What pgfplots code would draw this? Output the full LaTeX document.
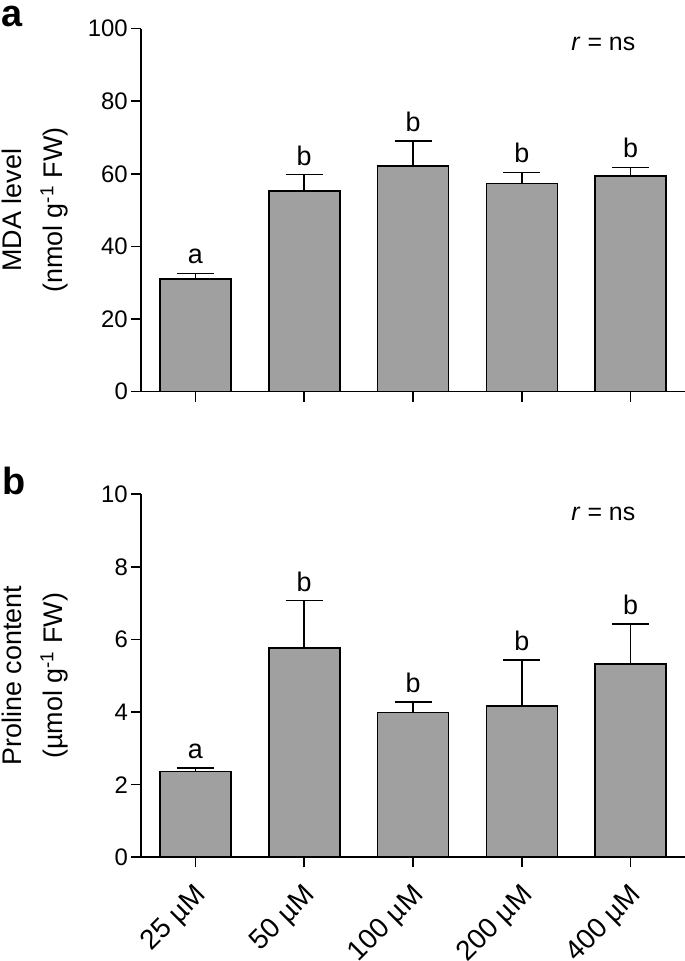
\documentclass[border=0pt]{standalone}
\usepackage{fontspec}
\setmainfont{Liberation Sans}
\usepackage{pgfplots}
\usepackage{pgfplotstable}
\pgfplotsset{compat=1.18}
\definecolor{bargray}{HTML}{A0A0A0}

\pgfplotstableread{
x y err lab
0 31.0 1.6 a
1 55.3 4.5 b
2 62.2 6.9 b
3 57.3 3.1 b
4 59.4 2.4 b
}\mda

\pgfplotstableread{
x y err lab
0 2.36 0.10 a
1 5.77 1.30 b
2 3.99 0.28 b
3 4.17 1.26 b
4 5.32 1.11 b
}\pro

\pgfplotsset{
  panel/.style={
    scale only axis,
    width=544bp, height=363bp,
    anchor=south west,
    axis lines=left,
    axis line style={-, line width=1.6bp, black},
    xmin=-0.5, xmax=4.5,
    ymin=0,
    xtick={0,1,2,3,4},
    tick align=outside,
    major tick length=10bp,
    tick style={line width=1.6bp, black},
    /pgf/number format/assume math mode=true,
    yticklabel style={font=\fontsize{24}{28}\selectfont, inner sep=3bp},
    ylabel style={align=center, font=\fontsize{27}{41}\selectfont,
      at={(rel axis cs:0,0.5)}, anchor=center, yshift=106bp},
    clip=false,
  },
  barstyle/.style={
    ybar, bar width=71bp, fill=bargray, draw=black, line width=1.6bp,
    error bars/.cd, y dir=plus, y explicit,
    error bar style={line width=1.6bp, black},
    error mark options={rotate=90, mark size=18.5bp, line width=1.6bp, black},
  },
  labstyle/.style={
    draw=none, mark=none, only marks,
    nodes near coords, point meta=explicit symbolic,
    every node near coord/.append style={font=\fontsize{27}{30}\selectfont,
      anchor=south, inner sep=0pt, yshift=9bp},
  },
}

\begin{document}
\begin{tikzpicture}[x=1bp,y=1bp]
\path[use as bounding box] (0,0) rectangle (685,961);

\node[anchor=north west, inner sep=0pt, font=\fontsize{38}{40}\selectfont\bfseries] at (1,955) {a};
\node[anchor=north west, inner sep=0pt, font=\fontsize{38}{40}\selectfont\bfseries] at (2,494.5) {b};

\begin{axis}[panel, at={(141bp,569.3bp)},
  ymax=100, ytick={0,20,40,60,80,100},
  xticklabels={},
  ylabel={MDA level\\(nmol g\textsuperscript{-1} FW)}]
\addplot[barstyle] table[x=x, y=y, y error=err] {\mda};
\addplot[labstyle] table[x=x, y expr=\thisrow{y}+\thisrow{err}, meta=lab] {\mda};
\node[anchor=base, font=\fontsize{25}{28}\selectfont] at (axis cs:3.75,94.1) {\textit{r} = ns};
\end{axis}

\begin{axis}[panel, at={(141bp,103.7bp)},
  ymax=10, ytick={0,2,4,6,8,10},
  xticklabels={25 µM,50 µM,100 µM,200 µM,400 µM},
  xticklabel style={font=\fontsize{28}{32}\selectfont, inner sep=0pt, xshift=-2bp, yshift=-15bp, rotate=45, anchor=north east},
  ylabel={Proline content\\(µmol g\textsuperscript{-1} FW)}]
\addplot[barstyle] table[x=x, y=y, y error=err] {\pro};
\addplot[labstyle] table[x=x, y expr=\thisrow{y}+\thisrow{err}, meta=lab] {\pro};
\node[anchor=base, font=\fontsize{25}{28}\selectfont] at (axis cs:3.75,9.29) {\textit{r} = ns};
\end{axis}
\end{tikzpicture}
\end{document}
